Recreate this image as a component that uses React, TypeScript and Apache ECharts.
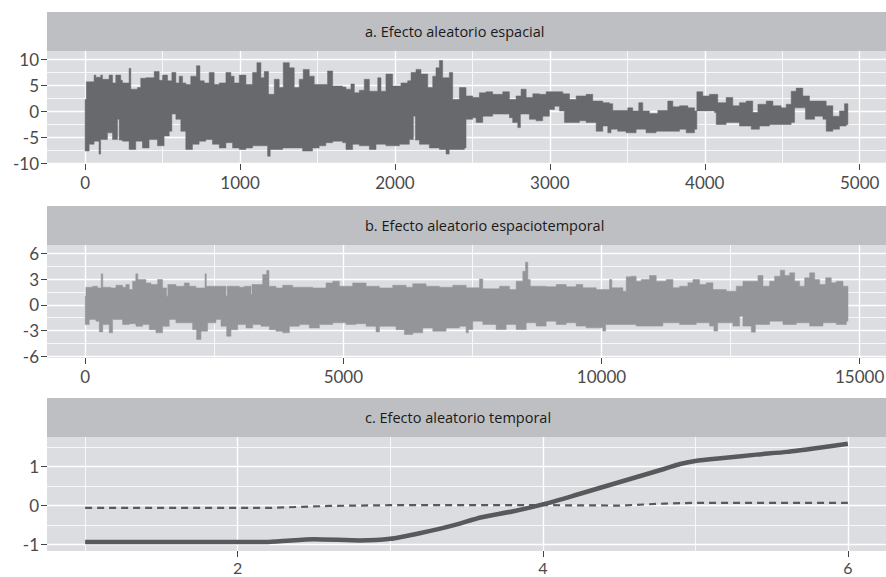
import React, { useEffect, useRef } from "react";
import * as echarts from "echarts";

// ---- Panel a: spatial random effect (envelope of the dense trace)
const spatialUpper: [number, number][] = [
  [0, 2.3], [8, 5.7], [58, 7.0], [69, 6.6], [101, 7.0], [112, 6.2], [155, 7.0], [177, 5.5], [198, 7.0], [230, 6.0],
  [241, 5.5], [284, 8.3], [295, 4.3], [338, 4.6], [359, 6.4], [392, 6.5], [446, 7.7], [478, 6.0], [500, 7.0], [532, 5.9],
  [560, 7.5], [586, 5.5], [607, 6.8], [629, 5.5], [650, 5.2], [682, 6.8], [719, 8.8], [741, 5.9], [769, 5.5], [801, 7.5],
  [833, 5.2], [866, 5.5], [909, 7.5], [941, 6.8], [962, 5.5], [995, 7.0], [1038, 5.2], [1081, 7.5], [1109, 9.4], [1135, 6.5],
  [1156, 7.7], [1184, 3.3], [1221, 6.2], [1253, 4.6], [1279, 9.4], [1318, 8.4], [1350, 4.6], [1382, 6.2], [1408, 8.1], [1447, 6.8],
  [1479, 5.2], [1533, 5.2], [1565, 7.8], [1598, 4.9], [1662, 4.7], [1684, 4.3], [1716, 5.3], [1738, 3.6], [1770, 4.1], [1802, 6.2],
  [1835, 3.9], [1889, 6.5], [1910, 3.9], [1942, 7.2], [1985, 4.9], [2039, 5.5], [2082, 5.9], [2104, 7.5], [2136, 8.1], [2168, 7.2],
  [2212, 4.6], [2244, 6.8], [2265, 8.4], [2287, 9.8], [2308, 6.5], [2351, 7.5], [2373, 2.3], [2416, 4.6], [2459, 3.0], [2502, 2.7],
  [2545, 3.6], [2588, 3.8], [2631, 3.3], [2696, 3.8], [2739, 2.3], [2782, 3.0], [2814, 4.3], [2847, 2.7], [2890, 3.4], [2933, 3.3],
  [2976, 3.8], [3040, 3.8], [3084, 3.4], [3127, 2.3], [3170, 3.0], [3234, 3.3], [3277, 2.0], [3342, 1.7], [3385, 1.5], [3406, 0.2],
  [3503, 0.7], [3535, 0.1], [3574, 1.7], [3600, 0.1], [3643, -0.4], [3697, 0.2], [3761, 2.0], [3794, 0.9], [3837, 1.1], [3891, 0.7],
  [3934, 0.1], [3949, 3.8], [3987, 3.0], [4030, 3.3], [4084, 1.7], [4138, 2.7], [4181, 1.1], [4224, 1.7], [4267, 2.0], [4310, -0.2],
  [4343, 1.4], [4397, 2.0], [4440, 1.1], [4493, 0.7], [4526, 1.4], [4558, 3.9], [4590, 4.5], [4633, 3.0], [4676, 2.0], [4741, 2.0],
  [4784, 1.1], [4827, -0.9], [4870, 0.1], [4902, 1.5], [4924, 0.4],
];
const spatialLower: [number, number][] = [
  [0, -7.6], [26, -6.3], [58, -5.7], [90, -8.2], [100, -5.4], [144, -4.1], [177, -5.4], [209, -1.5], [220, -5.5], [241, -5.7],
  [284, -7.3], [327, -5.7], [370, -7.0], [413, -5.4], [467, -6.6], [510, -4.7], [543, -3.8], [560, -0.5], [586, -1.5], [618, -3.8],
  [650, -7.3], [693, -6.3], [736, -5.7], [779, -5.4], [822, -6.3], [866, -7.0], [909, -6.0], [952, -7.0], [995, -7.3], [1038, -7.0],
  [1081, -6.6], [1135, -6.6], [1178, -8.6], [1195, -7.3], [1275, -7.0], [1339, -7.0], [1404, -7.6], [1468, -7.0], [1511, -6.6], [1554, -6.0],
  [1598, -5.7], [1662, -6.0], [1684, -7.3], [1727, -6.3], [1770, -6.6], [1835, -7.3], [1878, -6.3], [1942, -6.6], [2029, -6.3], [2093, -5.4],
  [2119, -0.9], [2132, -5.5], [2158, -6.3], [2222, -7.0], [2287, -7.3], [2330, -8.2], [2350, -7.3], [2448, -7.0], [2459, -1.5], [2502, -1.2],
  [2524, -2.1], [2567, -0.9], [2631, -0.5], [2696, -0.5], [2739, -1.2], [2760, -2.1], [2793, -3.1], [2810, -0.5], [2868, -1.5], [2911, -1.8],
  [2954, -0.9], [2997, 0.4], [3030, 1.0], [3062, 0.1], [3094, -2.1], [3148, -2.1], [3191, -1.8], [3234, -2.1], [3299, -3.8], [3342, -2.8],
  [3374, -4.1], [3395, -3.4], [3438, -3.8], [3492, -4.1], [3557, -3.4], [3621, -4.1], [3686, -3.8], [3772, -3.8], [3837, -3.4], [3880, -4.1],
  [3934, -3.4], [3949, 0.1], [4063, -0.2], [4074, -2.5], [4138, -2.1], [4224, -2.8], [4300, -3.4], [4353, -2.8], [4418, -2.5], [4483, -2.5],
  [4558, -2.1], [4580, 0.7], [4633, 0.7], [4650, -1.5], [4709, -0.9], [4763, -1.5], [4784, -3.8], [4827, -3.4], [4870, -2.8], [4913, -2.5],
  [4924, -1.5],
];

// ---- Panel b: spatiotemporal random effect envelope
const stUpper: [number, number][] = [
  [0, 1.0], [13, 2.05], [142, 2.16], [239, 1.97], [310, 3.6], [340, 2.05], [498, 1.97], [595, 2.28], [724, 2.05], [788, 2.36],
  [853, 1.78], [918, 2.75], [980, 3.6], [1020, 2.94], [1176, 2.55], [1273, 2.36], [1402, 2.94], [1499, 1.97], [1576, 1.0], [1600, 2.36],
  [1757, 2.16], [1919, 2.55], [2016, 2.16], [2145, 1.97], [2320, 3.6], [2345, 2.16], [2597, 2.16], [2726, 1.0], [2750, 2.16], [2985, 2.05],
  [3082, 2.16], [3211, 1.2], [3230, 2.36], [3437, 3.52], [3515, 4.0], [3560, 2.16], [3695, 1.97], [3825, 2.28], [4018, 2.05], [4212, 2.05],
  [4406, 1.97], [4664, 2.55], [4794, 2.75], [4923, 2.16], [5181, 2.55], [5440, 2.16], [5698, 1.97], [5956, 2.28], [6215, 2.05], [6344, 2.44],
  [6602, 2.16], [6861, 2.05], [7119, 2.28], [7378, 1.98], [7636, 3.0], [7700, 1.86], [8024, 2.17], [8217, 1.78], [8347, 2.75], [8476, 3.9],
  [8528, 4.96], [8573, 2.94], [8620, 2.17], [8928, 2.1], [9122, 2.36], [9316, 2.1], [9509, 2.36], [9638, 1.98], [9897, 1.78], [10155, 2.94],
  [10200, 1.98], [10414, 1.59], [10478, 3.26], [10575, 3.33], [10672, 2.75], [10769, 2.94], [10930, 3.41], [11060, 2.75], [11253, 2.94], [11383, 1.98],
  [11512, 2.17], [11673, 2.56], [11770, 2.94], [11899, 2.36], [12029, 2.56], [12158, 1.78], [12416, 1.59], [12610, 2.17], [12739, 2.75], [12901, 2.75],
  [13030, 3.41], [13127, 2.17], [13256, 2.75], [13353, 3.33], [13463, 4.03], [13547, 3.41], [13644, 3.72], [13740, 2.75], [13837, 2.17], [13934, 3.14],
  [14031, 3.72], [14128, 2.94], [14225, 2.36], [14341, 3.14], [14451, 2.56], [14548, 2.75], [14677, 2.17], [14774, 1.0],
];
const stLower: [number, number][] = [
  [0, -2.3], [78, -1.7], [207, -1.9], [272, -3.15], [340, -2.3], [465, -3.26], [530, -1.7], [724, -2.3], [853, -2.2], [982, -2.5],
  [1111, -2.3], [1241, -2.9], [1370, -3.26], [1499, -2.5], [1628, -1.7], [1757, -2.1], [1951, -2.1], [2080, -2.9], [2158, -4.04], [2242, -3.07],
  [2371, -2.1], [2533, -1.7], [2630, -2.5], [2740, -3.65], [2823, -2.9], [2953, -2.3], [3114, -2.7], [3243, -2.3], [3405, -2.5], [3566, -2.9],
  [3695, -3.07], [3825, -3.26], [3954, -2.5], [4148, -2.3], [4341, -2.7], [4535, -2.3], [4794, -2.1], [5052, -2.3], [5246, -2.2], [5440, -2.5],
  [5633, -3.15], [5700, -2.5], [6021, -2.9], [6182, -3.45], [6344, -3.26], [6538, -2.7], [6732, -3.07], [6990, -2.7], [7248, -2.5], [7378, -3.26],
  [7420, -2.87], [7507, -1.9], [7701, -2.29], [7959, -2.87], [8153, -2.29], [8347, -2.87], [8541, -2.09], [8734, -2.48], [8928, -1.9], [9122, -2.29],
  [9316, -2.09], [9509, -2.48], [9703, -2.68], [10026, -3.06], [10080, -2.29], [10349, -2.29], [10672, -2.48], [10930, -2.48], [11189, -2.09], [11512, -2.29],
  [11835, -2.09], [12093, -2.48], [12177, -3.06], [12250, -2.09], [12545, -2.48], [12674, -1.32], [12739, -2.48], [12901, -3.18], [12980, -2.29], [13256, -1.9],
  [13514, -2.29], [13773, -2.09], [14031, -2.48], [14290, -2.09], [14548, -2.29], [14742, -1.9], [14774, -0.52],
];

// ---- Panel c: temporal random effect
const temporalX = [1, 1.5, 2, 2.2, 2.5, 2.8, 3, 3.2, 3.4, 3.6, 3.8, 4, 4.2, 4.4, 4.6, 4.8, 4.9, 5, 5.2, 5.4, 5.6, 5.8, 6];
const temporalMean = [-0.93, -0.93, -0.93, -0.93, -0.86, -0.89, -0.85, -0.7, -0.52, -0.3, -0.15, 0.03, 0.25, 0.48, 0.71, 0.94, 1.06, 1.14, 1.22, 1.3, 1.37, 1.47, 1.58];
const temporalDashX = [1, 2.2, 2.6, 3, 4, 4.5, 4.8, 5, 6];
const temporalDash = [-0.06, -0.06, -0.01, 0.01, 0.01, 0.0, 0.05, 0.07, 0.07];

// ---- Tick labels
const ticksAX = [0, 1000, 2000, 3000, 4000, 5000];
const ticksAY = [-10, -5, 0, 5, 10];
const ticksBX = [0, 5000, 10000, 15000];
const ticksBY = [-6, -3, 0, 3, 6];
const ticksCX = [2, 4, 6];
const ticksCY = [-1, 0, 1];
const panelTitles = [
  "a. Efecto aleatorio espacial",
  "b. Efecto aleatorio espaciotemporal",
  "c. Efecto aleatorio temporal",
];

const PANEL_BG = "#dcdde0";
const STRIP_BG = "#bebfc2";
const LABEL_COLOR = "#4a4a4a";
const TICK_COLOR = "#444";
const LABEL_FONT = "Lato";

function stepPoints(pts: [number, number][]): [number, number][] {
  const out: [number, number][] = [];
  for (let i = 0; i < pts.length; i++) {
    out.push(pts[i]);
    if (i < pts.length - 1) out.push([pts[i + 1][0], pts[i][1]]);
  }
  return out;
}

function axis(
  dir: "x" | "y",
  gridIndex: number,
  min: number,
  max: number,
  step: number,
  ticks: number[],
  fontSize = 17,
  margin = dir === "x" ? 12.5 : 8
) {
  return {
    type: "value",
    gridIndex,
    min,
    max,
    minInterval: step,
    maxInterval: step,
    axisLine: { show: false, onZero: false },
    axisTick: { show: true, length: 6, lineStyle: { color: TICK_COLOR, width: 1 }, customValues: ticks },
    axisLabel: {
      customValues: ticks,
      color: LABEL_COLOR,
      fontFamily: LABEL_FONT,
      fontSize,
      lineHeight: dir === "x" ? 12 : 17,
      margin,
      formatter: (v: number) => String(v),
    },
    splitLine: { show: true, lineStyle: { color: "#ffffff", width: 1.4 } },
    minorTick: { show: false, splitNumber: 2 },
    minorSplitLine: { show: true, lineStyle: { color: "#ffffff", width: 0.8 } },
  };
}

function band(idx: number, upper: [number, number][], lower: [number, number][], color: string) {
  return {
    type: "custom",
    xAxisIndex: idx,
    yAxisIndex: idx,
    clip: true,
    silent: true,
    data: [[0, 0]],
    renderItem: (_params: any, api: any) => {
      const poly = stepPoints(upper).concat(stepPoints(lower).reverse());
      return {
        type: "polygon",
        shape: { points: poly.map((p) => api.coord(p)) },
        style: { fill: color, stroke: color, lineWidth: 0.5 },
      };
    },
  };
}

const grids = [
  { top: 51, height: 113 },
  { top: 245, height: 113 },
  { top: 437, height: 114 },
];
const STRIP_H = 39;
const LEFT = 47;
const WIDTH = 839;

export default function App() {
  const ref = useRef<HTMLDivElement>(null);
  useEffect(() => {
    if (!ref.current) return;
    const chart = echarts.init(ref.current, undefined, { renderer: "svg" });
    const graphics: any[] = [];
    grids.forEach((g, i) => {
      graphics.push({
        type: "rect",
        shape: { x: LEFT, y: g.top - STRIP_H, width: WIDTH, height: STRIP_H },
        style: { fill: STRIP_BG },
        silent: true,
      });
      graphics.push({
        type: "text",
        x: 365,
        y: g.top - STRIP_H / 2,
        style: {
          text: panelTitles[i],
          fill: "#1a1a1a",
          font: '14.5px "Open Sans"',
          align: "left",
          verticalAlign: "middle",
          textAlign: "left",
          textVerticalAlign: "middle",
        },
        silent: true,
      });
    });
    chart.setOption({
      animation: false,
      backgroundColor: "#ffffff",
      grid: grids.map((g) => ({
        left: LEFT,
        top: g.top,
        width: WIDTH,
        height: g.height,
        show: true,
        backgroundColor: PANEL_BG,
        borderWidth: 0,
        containLabel: false,
        outerBoundsMode: "none",
      })),
      xAxis: [
        axis("x", 0, -246, 5170, 1000, ticksAX),
        axis("x", 1, -740, 15510, 5000, ticksBX),
        axis("x", 2, 0.75, 6.25, 2, ticksCX, 16, 10),
      ],
      yAxis: [
        axis("y", 0, -10.1, 11.64, 5, ticksAY),
        axis("y", 1, -6.19, 6.96, 3, ticksBY),
        axis("y", 2, -1.16, 1.75, 1, ticksCY),
      ],
      graphic: graphics,
      series: [
        band(0, spatialUpper, spatialLower, "#68696d"),
        band(1, stUpper, stLower, "#949599"),
        {
          type: "line",
          xAxisIndex: 2,
          yAxisIndex: 2,
          data: temporalDashX.map((x, i) => [x, temporalDash[i]]),
          symbol: "none",
          showSymbol: false,
          lineStyle: { color: "#58595b", width: 2.2, type: [7, 5] },
          silent: true,
        },
        {
          type: "line",
          xAxisIndex: 2,
          yAxisIndex: 2,
          data: temporalX.map((x, i) => [x, temporalMean[i]]),
          symbol: "none",
          showSymbol: false,
          smooth: 0.2,
          lineStyle: { color: "#58595b", width: 4.5, join: "round" },
          silent: true,
        },
      ],
    });
    return () => chart.dispose();
  }, []);
  return (
    <div
      ref={ref}
      style={{ position: "fixed", left: 0, top: 0, width: 886, height: 577 }}
    />
  );
}
